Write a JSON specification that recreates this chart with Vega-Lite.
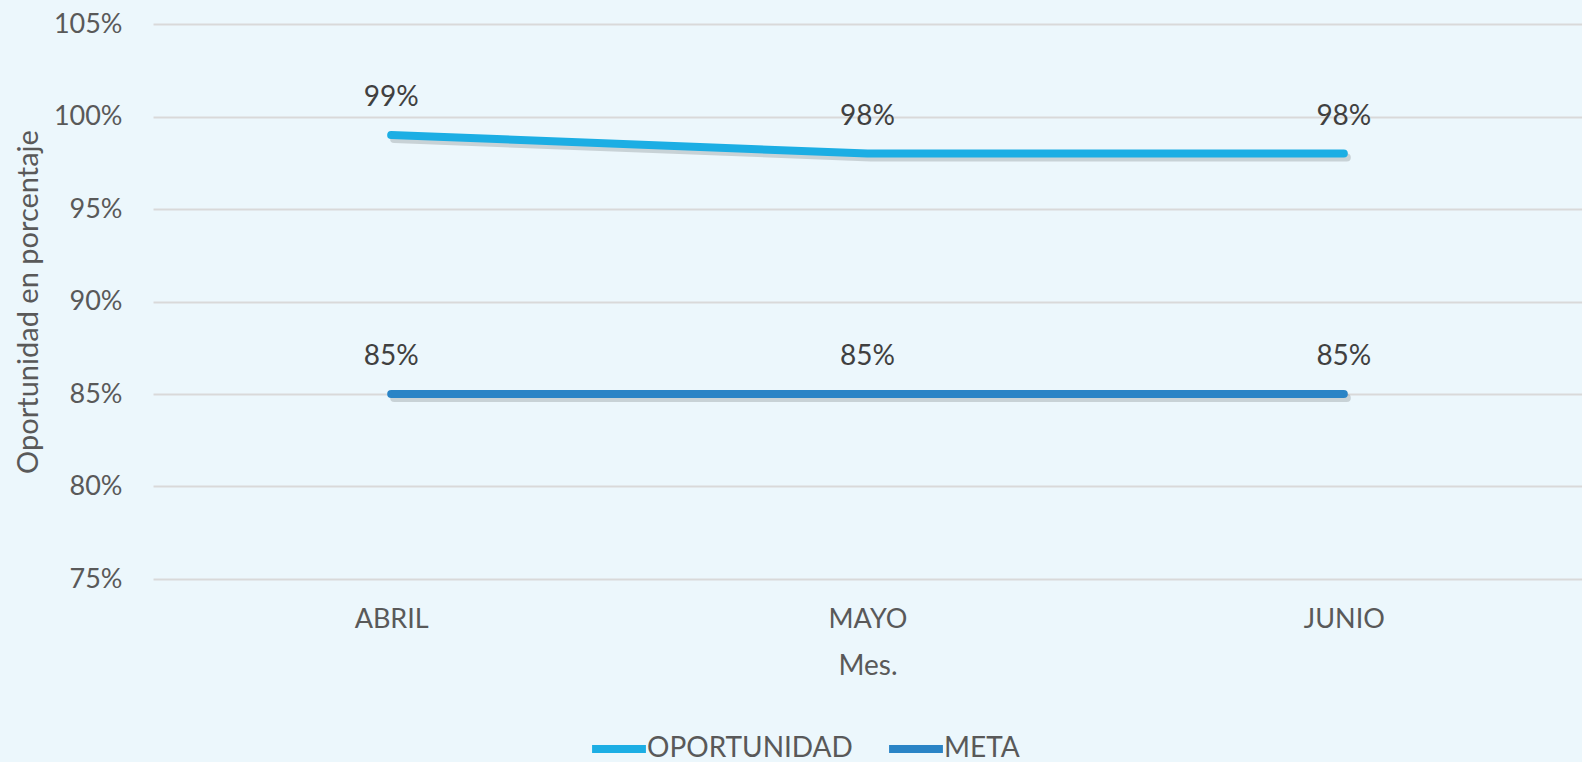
{
  "$schema": "https://vega.github.io/schema/vega-lite/v6.json",
  "width": 1429,
  "height": 555,
  "padding": {"left": 153, "top": 24, "right": 0, "bottom": 183},
  "autosize": {"type": "none"},
  "background": "#ECF7FC",
  "config": {
    "view": {"stroke": null},
    "font": "Lato",
    "axis": {"labelFont": "Lato", "titleFont": "Lato", "labelColor": "#595959", "titleColor": "#595959", "titleFontWeight": "normal"}
  },
  "data": {
    "values": [
      {"mes": "ABRIL", "serie": "OPORTUNIDAD", "valor": 0.99},
      {"mes": "MAYO", "serie": "OPORTUNIDAD", "valor": 0.98},
      {"mes": "JUNIO", "serie": "OPORTUNIDAD", "valor": 0.98},
      {"mes": "ABRIL", "serie": "META", "valor": 0.85},
      {"mes": "MAYO", "serie": "META", "valor": 0.85},
      {"mes": "JUNIO", "serie": "META", "valor": 0.85}
    ]
  },
  "encoding": {
    "x": {
      "field": "mes", "type": "ordinal", "sort": ["ABRIL", "MAYO", "JUNIO"],
      "scale": {"type": "point", "padding": 0.5},
      "axis": {"title": "Mes.", "labelAngle": 0, "labelFontSize": 27, "titleFontSize": 28, "domain": false, "ticks": false, "labelPadding": 27, "titlePadding": 20, "grid": false}
    },
    "y": {
      "field": "valor", "type": "quantitative",
      "scale": {"domain": [0.75, 1.05], "nice": false, "zero": false},
      "axis": {"title": "Oportunidad en porcentaje", "format": ".0%", "values": [0.75, 0.8, 0.85, 0.9, 0.95, 1.0, 1.05], "labelFontSize": 27, "titleFontSize": 29, "domain": false, "ticks": false, "labelPadding": 31, "titlePadding": 10, "gridColor": "#D9D9D9", "gridWidth": 2}
    }
  },
  "layer": [
    {
      "mark": {"type": "line", "strokeWidth": 8, "strokeCap": "round", "strokeJoin": "round", "color": "#000000", "opacity": 0.15, "xOffset": 3, "yOffset": 4},
      "encoding": {"detail": {"field": "serie"}}
    },
    {
      "mark": {"type": "line", "strokeWidth": 8, "strokeCap": "round", "strokeJoin": "round"},
      "encoding": {
        "color": {
          "field": "serie", "type": "nominal",
          "scale": {"domain": ["OPORTUNIDAD", "META"], "range": ["#1CAEE4", "#2A84C6"]},
          "legend": {"title": null, "orient": "none", "legendX": 435, "legendY": 694, "direction": "horizontal", "symbolType": "stroke", "symbolStrokeWidth": 8, "symbolSize": 2900, "labelFontSize": 28, "labelFont": "Lato", "labelColor": "#595959", "labelLimit": 0, "columnPadding": 20, "labelOffset": -3}
        }
      }
    },
    {
      "mark": {"type": "text", "dy": -37, "fontSize": 28, "color": "#404040", "font": "Lato"},
      "encoding": {"text": {"field": "valor", "type": "quantitative", "format": ".0%"}}
    }
  ]
}
